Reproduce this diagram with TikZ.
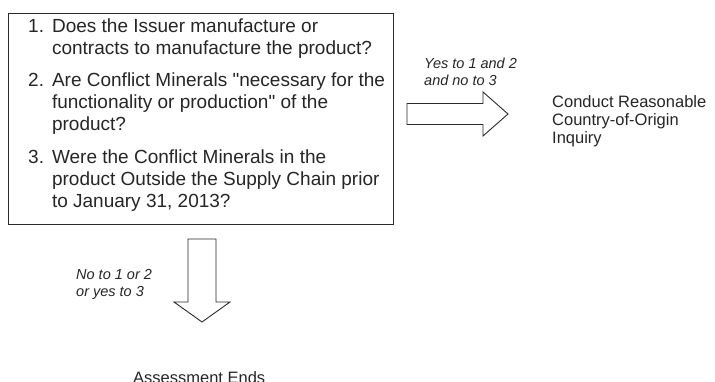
\documentclass[tikz,border=0pt]{standalone}
\usepackage{fontspec}
\setmainfont{Liberation Sans}[Ligatures=TeXOff]
\definecolor{ink}{HTML}{262626}
\definecolor{edge}{HTML}{2A2A2A}
\begin{document}
\begin{tikzpicture}[x=1pt,y=-1pt,
  qbox/.style={draw=edge,line width=0.9pt,rectangle,inner sep=0pt},
  qtext/.style={inner sep=0pt,text=ink,font=\fontsize{19}{22}\selectfont},
  outcome/.style={inner sep=0pt,text=ink,align=left,font=\fontsize{16.5}{18}\selectfont},
  cond/.style={inner sep=0pt,text=ink,align=left,font=\fontsize{14.5}{16.5}\selectfont\itshape},
  blockarrow/.style={draw=edge,line width=0.9pt,fill=white,line join=miter}]
\useasboundingbox (0,0) rectangle (715,381);
\fill[white] (0,0) rectangle (715,381);

% question box
\node[qbox,minimum width=385pt,minimum height=211pt] (q) at (200.5,118.5) {};
\node[qtext,anchor=base west] (qt) at (28,32)
  {\begin{tabular}[t]{@{}l@{\hspace{8pt}}l@{}}
   1. & Does the Issuer manufacture or\\
      & contracts to manufacture the product?\\[10.5pt]
   2. & Are Conflict Minerals "necessary for the\\
      & functionality or production" of the\\
      & product?\\[10.5pt]
   3. & Were the Conflict Minerals in the\\
      & product Outside the Supply Chain prior\\
      & to January 31, 2013?
   \end{tabular}};

% outcomes (multi-line nodes sit on the baseline of their last line)
\node[outcome,anchor=base west] (yes) at (552,143)
  {Conduct Reasonable\\Country-of-Origin\\Inquiry};
\node[outcome,anchor=base west] (no) at (133,383) {Assessment Ends};

% conditions on the arrows
\node[cond,anchor=base west] (cy) at (424,85) {Yes to 1 and 2\\and no to 3};
\node[cond,anchor=base west] (cn) at (76,296) {No to 1 or 2\\or yes to 3};

% block arrow towards the inquiry
\coordinate (ra) at (407,114);
\draw[blockarrow] (ra) ++(0,-10.5) -- ++(76,0) -- ++(0,-11.5) -- ++(25,22)
  -- ++(-25,22) -- ++(0,-11.5) -- ++(-76,0) -- cycle;

% block arrow towards the end of the assessment
\coordinate (da) at (202,239);
\draw[blockarrow] (da) ++(-14,0) -- ++(28,0) -- ++(0,63) -- ++(14,0) -- ++(-28,20)
  -- ++(-28,-20) -- ++(14,0) -- cycle;
\end{tikzpicture}
\end{document}
